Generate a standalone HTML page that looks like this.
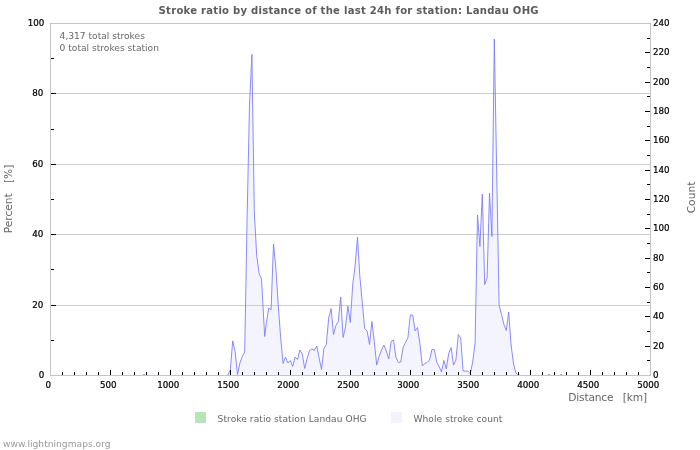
<!DOCTYPE html>
<html lang="en">
<head>
<meta charset="utf-8">
<title>Stroke ratio by distance of the last 24h for station: Landau OHG</title>
<style>
html,body{margin:0;padding:0;background:#fff;}
body{width:700px;height:450px;overflow:hidden;}
svg{display:block;will-change:transform;}
text{font-family:"DejaVu Sans","Liberation Sans",sans-serif;font-size:8.7px;fill:#000;}
.tk text{stroke:#000;stroke-width:0.22px;}
.t{font-family:"DejaVu Sans Condensed","DejaVu Sans","Liberation Sans",sans-serif;font-weight:bold;font-size:11.2px;fill:#5c5c5c;}
.ax{font-family:"DejaVu Sans","Liberation Sans",sans-serif;font-size:10.67px;fill:#666;}
.g{fill:#666;font-size:9.1px;}
.f{font-family:"DejaVu Sans","Liberation Sans",sans-serif;font-size:9.15px;fill:#9a9a9a;}
</style>
</head>
<body>
<svg width="700" height="450" viewBox="0 0 700 450">
<rect width="700" height="450" fill="#fff"/>
<text class="t" x="158.6" y="14" textLength="380" lengthAdjust="spacing">Stroke ratio by distance of the last 24h for station: Landau OHG</text>
<!-- area fill -->
<path d="M225.5 375.5 L227.9 375 L230.3 370 L232.7 341 L235.1 351.5 L237.5 374.5 L239.9 363 L242.3 356.5 L244.7 352 L247.1 218 L249.5 105 L251.9 54.4 L254.3 212 L256.7 255.5 L259.1 273.5 L261.5 279 L264.7 336.5 L266.3 323.4 L268.7 308.2 L271.1 309.7 L273.5 244 L275.9 268.5 L278.3 306 L280.7 338 L283.1 363.5 L285.5 357 L287.9 363 L290.3 360.5 L292.7 366.5 L295.1 357 L297.5 359.5 L299.9 350 L302.3 354 L304.7 368.5 L307.1 358.5 L309.5 350.5 L311.9 349 L314.3 350.5 L316.7 346 L319.1 358 L321.5 369.5 L323.9 348.5 L326.3 344.5 L328.7 318 L331.1 308.5 L333.5 334.5 L335.9 325.5 L338.3 321.5 L340.7 297 L343.1 337.5 L345.5 327 L347.9 306 L350.3 322.5 L352.7 285 L355.1 266 L357.5 237.2 L359.9 277 L362.3 303 L364.7 328.5 L367.1 331 L369.5 344.5 L371.9 321.5 L374.3 341.5 L376.7 365 L379.1 356.5 L381.5 350 L383.9 345 L386.3 351 L388.7 359 L391.1 341.5 L393.5 340 L395.9 357 L398.3 362.5 L400.7 362 L403.1 347.5 L405.5 342.5 L407.9 338 L410.3 315 L412.7 315 L415.1 331 L417.5 327.5 L419.9 343.5 L422.3 366 L424.7 363.5 L427.1 362.5 L429.5 360 L431.9 349.5 L434.3 349.5 L436.7 362 L439.1 366.5 L441.5 372 L443.9 360.5 L446.3 369 L448.7 353.5 L451.1 347.5 L453.5 365 L455.9 360 L458.3 334.5 L460.7 338 L463.1 371 L465.5 371 L467.9 371.2 L470.3 373.5 L472.7 362 L475.1 343 L477.5 215 L479.9 246.5 L482.3 194 L484.7 284.5 L487.1 278 L489.5 193 L491.9 236.5 L494.3 39 L496.7 172 L499.1 305 L501.5 314.5 L503.9 324.5 L506.3 330.5 L508.7 312 L511.1 345 L513.5 364 L515.9 373 L518.3 375 L520.7 375.5 L520.7 375.5 L225.5 375.5 Z" fill="#f4f4ff" stroke="none"/>
<g shape-rendering="crispEdges">
<rect x="51" y="305" width="599" height="1" fill="#cdcdcd"/>
<rect x="51" y="234" width="599" height="1" fill="#cdcdcd"/>
<rect x="51" y="164" width="599" height="1" fill="#cdcdcd"/>
<rect x="51" y="93" width="599" height="1" fill="#cdcdcd"/>
</g>
<path d="M225.5 375.5 L227.9 375 L230.3 370 L232.7 341 L235.1 351.5 L237.5 374.5 L239.9 363 L242.3 356.5 L244.7 352 L247.1 218 L249.5 105 L251.9 54.4 L254.3 212 L256.7 255.5 L259.1 273.5 L261.5 279 L264.7 336.5 L266.3 323.4 L268.7 308.2 L271.1 309.7 L273.5 244 L275.9 268.5 L278.3 306 L280.7 338 L283.1 363.5 L285.5 357 L287.9 363 L290.3 360.5 L292.7 366.5 L295.1 357 L297.5 359.5 L299.9 350 L302.3 354 L304.7 368.5 L307.1 358.5 L309.5 350.5 L311.9 349 L314.3 350.5 L316.7 346 L319.1 358 L321.5 369.5 L323.9 348.5 L326.3 344.5 L328.7 318 L331.1 308.5 L333.5 334.5 L335.9 325.5 L338.3 321.5 L340.7 297 L343.1 337.5 L345.5 327 L347.9 306 L350.3 322.5 L352.7 285 L355.1 266 L357.5 237.2 L359.9 277 L362.3 303 L364.7 328.5 L367.1 331 L369.5 344.5 L371.9 321.5 L374.3 341.5 L376.7 365 L379.1 356.5 L381.5 350 L383.9 345 L386.3 351 L388.7 359 L391.1 341.5 L393.5 340 L395.9 357 L398.3 362.5 L400.7 362 L403.1 347.5 L405.5 342.5 L407.9 338 L410.3 315 L412.7 315 L415.1 331 L417.5 327.5 L419.9 343.5 L422.3 366 L424.7 363.5 L427.1 362.5 L429.5 360 L431.9 349.5 L434.3 349.5 L436.7 362 L439.1 366.5 L441.5 372 L443.9 360.5 L446.3 369 L448.7 353.5 L451.1 347.5 L453.5 365 L455.9 360 L458.3 334.5 L460.7 338 L463.1 371 L465.5 371 L467.9 371.2 L470.3 373.5 L472.7 362 L475.1 343 L477.5 215 L479.9 246.5 L482.3 194 L484.7 284.5 L487.1 278 L489.5 193 L491.9 236.5 L494.3 39 L496.7 172 L499.1 305 L501.5 314.5 L503.9 324.5 L506.3 330.5 L508.7 312 L511.1 345 L513.5 364 L515.9 373 L518.3 375 L520.7 375.5" fill="none" stroke="#7e7efa" stroke-width="0.9" stroke-linejoin="miter" stroke-miterlimit="10"/>
<rect x="143" y="374" width="2" height="1" fill="#9c9cfa"/><rect x="548" y="374" width="2" height="1" fill="#9c9cfa"/><rect x="560" y="374" width="2" height="1" fill="#9c9cfa"/>
<g shape-rendering="crispEdges">
<!-- frame -->
<rect x="50" y="23" width="601" height="1" fill="#c4c4c4"/>
<rect x="50" y="375" width="601" height="1" fill="#c4c4c4"/>
<rect x="50" y="23" width="1" height="353" fill="#c4c4c4"/>
<rect x="650" y="23" width="1" height="353" fill="#c4c4c4"/>
<g fill="#000">
<rect x="51" y="340" width="3" height="1"/>
<rect x="51" y="305" width="5" height="1"/>
<rect x="51" y="269" width="3" height="1"/>
<rect x="51" y="234" width="5" height="1"/>
<rect x="51" y="199" width="3" height="1"/>
<rect x="51" y="164" width="5" height="1"/>
<rect x="51" y="129" width="3" height="1"/>
<rect x="51" y="93" width="5" height="1"/>
<rect x="51" y="58" width="3" height="1"/>
<rect x="647" y="360" width="3" height="1"/>
<rect x="645" y="346" width="5" height="1"/>
<rect x="647" y="331" width="3" height="1"/>
<rect x="645" y="316" width="5" height="1"/>
<rect x="647" y="302" width="3" height="1"/>
<rect x="645" y="287" width="5" height="1"/>
<rect x="647" y="272" width="3" height="1"/>
<rect x="645" y="258" width="5" height="1"/>
<rect x="647" y="243" width="3" height="1"/>
<rect x="645" y="228" width="5" height="1"/>
<rect x="647" y="214" width="3" height="1"/>
<rect x="645" y="199" width="5" height="1"/>
<rect x="647" y="184" width="3" height="1"/>
<rect x="645" y="170" width="5" height="1"/>
<rect x="647" y="155" width="3" height="1"/>
<rect x="645" y="140" width="5" height="1"/>
<rect x="647" y="126" width="3" height="1"/>
<rect x="645" y="111" width="5" height="1"/>
<rect x="647" y="96" width="3" height="1"/>
<rect x="645" y="82" width="5" height="1"/>
<rect x="647" y="67" width="3" height="1"/>
<rect x="645" y="52" width="5" height="1"/>
<rect x="647" y="38" width="3" height="1"/>
<rect x="62" y="372" width="1" height="3"/>
<rect x="74" y="372" width="1" height="3"/>
<rect x="86" y="372" width="1" height="3"/>
<rect x="98" y="372" width="1" height="3"/>
<rect x="110" y="370" width="1" height="5"/>
<rect x="122" y="372" width="1" height="3"/>
<rect x="134" y="372" width="1" height="3"/>
<rect x="146" y="372" width="1" height="3"/>
<rect x="158" y="372" width="1" height="3"/>
<rect x="170" y="370" width="1" height="5"/>
<rect x="182" y="372" width="1" height="3"/>
<rect x="194" y="372" width="1" height="3"/>
<rect x="206" y="372" width="1" height="3"/>
<rect x="218" y="372" width="1" height="3"/>
<rect x="230" y="370" width="1" height="5"/>
<rect x="242" y="372" width="1" height="3"/>
<rect x="254" y="372" width="1" height="3"/>
<rect x="266" y="372" width="1" height="3"/>
<rect x="278" y="372" width="1" height="3"/>
<rect x="290" y="370" width="1" height="5"/>
<rect x="302" y="372" width="1" height="3"/>
<rect x="314" y="372" width="1" height="3"/>
<rect x="326" y="372" width="1" height="3"/>
<rect x="338" y="372" width="1" height="3"/>
<rect x="350" y="370" width="1" height="5"/>
<rect x="362" y="372" width="1" height="3"/>
<rect x="374" y="372" width="1" height="3"/>
<rect x="386" y="372" width="1" height="3"/>
<rect x="398" y="372" width="1" height="3"/>
<rect x="410" y="370" width="1" height="5"/>
<rect x="422" y="372" width="1" height="3"/>
<rect x="434" y="372" width="1" height="3"/>
<rect x="446" y="372" width="1" height="3"/>
<rect x="458" y="372" width="1" height="3"/>
<rect x="470" y="370" width="1" height="5"/>
<rect x="482" y="372" width="1" height="3"/>
<rect x="494" y="372" width="1" height="3"/>
<rect x="506" y="372" width="1" height="3"/>
<rect x="518" y="372" width="1" height="3"/>
<rect x="530" y="370" width="1" height="5"/>
<rect x="542" y="372" width="1" height="3"/>
<rect x="554" y="372" width="1" height="3"/>
<rect x="566" y="372" width="1" height="3"/>
<rect x="578" y="372" width="1" height="3"/>
<rect x="590" y="370" width="1" height="5"/>
<rect x="602" y="372" width="1" height="3"/>
<rect x="614" y="372" width="1" height="3"/>
<rect x="626" y="372" width="1" height="3"/>
<rect x="638" y="372" width="1" height="3"/>
</g>
</g>
<g class="tk">
<text x="44.3" y="377.6" text-anchor="end">0</text>
<text x="43.4" y="307.6" text-anchor="end">20</text>
<text x="43.4" y="236.6" text-anchor="end">40</text>
<text x="43.4" y="166.6" text-anchor="end">60</text>
<text x="43.4" y="95.6" text-anchor="end">80</text>
<text x="44.3" y="25.6" text-anchor="end">100</text>
<text x="653" y="378.0">0</text>
<text x="653" y="349.0">20</text>
<text x="653" y="319.0">40</text>
<text x="653" y="290.0">60</text>
<text x="653" y="261.0">80</text>
<text x="653" y="231.0">100</text>
<text x="653" y="202.0">120</text>
<text x="653" y="173.0">140</text>
<text x="653" y="143.0">160</text>
<text x="653" y="114.0">180</text>
<text x="653" y="85.0">200</text>
<text x="653" y="55.0">220</text>
<text x="653" y="26.0">240</text>
<text x="48.2" y="388" text-anchor="middle">0</text>
<text x="108.2" y="388" text-anchor="middle">500</text>
<text x="168.2" y="388" text-anchor="middle">1000</text>
<text x="228.2" y="388" text-anchor="middle">1500</text>
<text x="288.2" y="388" text-anchor="middle">2000</text>
<text x="348.2" y="388" text-anchor="middle">2500</text>
<text x="408.2" y="388" text-anchor="middle">3000</text>
<text x="468.2" y="388" text-anchor="middle">3500</text>
<text x="528.2" y="388" text-anchor="middle">4000</text>
<text x="588.2" y="388" text-anchor="middle">4500</text>
<text x="648.2" y="388" text-anchor="middle">5000</text>
</g>
<text class="g" x="59.6" y="38.6" textLength="85.3">4,317 total strokes</text>
<text class="g" x="59.6" y="50.6" textLength="99.3">0 total strokes station</text>
<text class="ax" transform="translate(12.3 199) rotate(-90)" text-anchor="middle" xml:space="preserve">Percent   [%]</text>
<text class="ax" transform="translate(694.6 197.5) rotate(-90)" text-anchor="middle">Count</text>
<text class="ax" x="568.3" y="401" textLength="78.8" xml:space="preserve">Distance   [km]</text>
<rect x="195" y="412" width="11" height="11" fill="#b8e4b9"/>
<text class="g" x="217.6" y="421.7" textLength="149">Stroke ratio station Landau OHG</text>
<rect x="391" y="412" width="11" height="11" fill="#f3f3ff"/>
<text class="g" x="413.4" y="421.7" textLength="89">Whole stroke count</text>
<text class="f" x="3" y="447.1" textLength="107.6">www.lightningmaps.org</text>
</svg>
</body>
</html>
